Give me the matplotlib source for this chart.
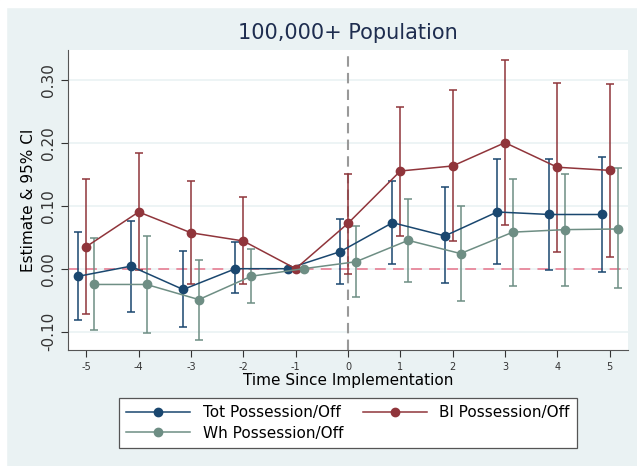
import numpy as np
import matplotlib.pyplot as plt
from matplotlib.patches import Rectangle

# event time
periods = [-5, -4, -3, -2, -1, 0, 1, 2, 3, 4, 5]

# Tot Possession/Off
tot_est = [-0.012, 0.004, -0.033, 0.000, 0.000, 0.027, 0.073, 0.052, 0.090, 0.086, 0.086]
tot_lo = [-0.081, -0.068, -0.092, -0.039, 0.000, -0.024, 0.007, -0.023, 0.007, -0.002, -0.006]
tot_hi = [0.059, 0.076, 0.028, 0.042, 0.000, 0.079, 0.139, 0.129, 0.174, 0.174, 0.178]

# Bl Possession/Off
bl_est = [0.035, 0.090, 0.057, 0.044, 0.000, 0.072, 0.155, 0.163, 0.200, 0.161, 0.156]
bl_lo = [-0.072, -0.002, -0.025, -0.025, 0.000, -0.008, 0.052, 0.044, 0.069, 0.026, 0.018]
bl_hi = [0.142, 0.184, 0.139, 0.114, 0.000, 0.151, 0.257, 0.283, 0.331, 0.295, 0.293]

# Wh Possession/Off
wh_est = [-0.025, -0.025, -0.049, -0.012, 0.000, 0.011, 0.045, 0.024, 0.058, 0.062, 0.063]
wh_lo = [-0.097, -0.102, -0.113, -0.055, 0.000, -0.045, -0.021, -0.051, -0.027, -0.027, -0.031]
wh_hi = [0.048, 0.052, 0.014, 0.031, 0.000, 0.068, 0.110, 0.099, 0.143, 0.150, 0.160]

yticks = [-0.10, 0.00, 0.10, 0.20, 0.30]
ytick_labels = ["-0.10", "0.00", "0.10", "0.20", "0.30"]

bg = "#eaf2f3"
fig = plt.figure(figsize=(6.37, 4.66), dpi=100, facecolor=bg)
# white screenshot margin at top and left
fig.patches.append(Rectangle((0, 0), 6 / 637, 1, transform=fig.transFigure, color="white", zorder=-1))
fig.patches.append(Rectangle((0, 1 - 7 / 466), 1, 7 / 466, transform=fig.transFigure, color="white", zorder=-1))

ax = fig.add_axes([68 / 637, 1 - 350 / 466, 560 / 637, 300 / 466])
ax.set_facecolor("white")

series = [
    ("Tot Possession/Off", tot_est, tot_lo, tot_hi, "#1a476f", -0.15),
    ("Bl Possession/Off", bl_est, bl_lo, bl_hi, "#90353b", 0.0),
    ("Wh Possession/Off", wh_est, wh_lo, wh_hi, "#6e8e84", 0.15),
]
x = np.array(periods, dtype=float)
handles = []
for name, est, lo, hi, col, off in series:
    est = np.array(est)
    yerr = [est - np.array(lo), np.array(hi) - est]
    ax.errorbar(x + off, est, yerr=yerr, fmt="none", ecolor=col, elinewidth=1.1,
                capsize=3, capthick=1.1, zorder=3)
    h, = ax.plot(x + off, est, "-o", color=col, lw=1.1, ms=6, zorder=4, label=name)
    handles.append(h)

ax.axhline(0, color="#e8879b", lw=1.3, ls=(0, (6, 4)), zorder=2)
ax.axvline(0, color="#999999", lw=1.5, ls=(0, (5, 3)), zorder=2)

ax.set_xlim(-5.35, 5.35)
ax.set_ylim(-0.129, 0.347)
ax.set_xticks(periods)
ax.set_xticklabels([str(p) for p in periods], fontsize=7)
ax.set_yticks(yticks)
ax.set_yticklabels(ytick_labels, rotation=90, va="center", fontsize=11)
ax.grid(axis="y", color=bg, lw=1.2, zorder=0)
ax.set_axisbelow(True)
for s in ["top", "right"]:
    ax.spines[s].set_visible(False)
for s in ["left", "bottom"]:
    ax.spines[s].set_color("#555555")
ax.tick_params(colors="#333333", length=5)

ax.set_title("100,000+ Population", fontsize=15, color="#1e2d4f", pad=8)
ax.set_xlabel("Time Since Implementation", fontsize=11, labelpad=1)
ax.set_ylabel("Estimate & 95% CI", fontsize=11, labelpad=4)

# column-first fill: order so row 1 is Tot, Bl and row 2 is Wh
order = [0, 2, 1]
leg = fig.legend([handles[i] for i in order], [series[i][0] for i in order],
                 ncol=2, loc="center",
                 bbox_to_anchor=(348 / 637, 1 - 423 / 466), fontsize=11,
                 handlelength=4.2, fancybox=False, framealpha=1,
                 edgecolor="#555555", borderpad=0.45, labelspacing=0.35,
                 columnspacing=1.3, handletextpad=0.8, borderaxespad=0)
leg.get_frame().set_linewidth(0.9)

fig.savefig("out.png", dpi=100, facecolor=bg)
